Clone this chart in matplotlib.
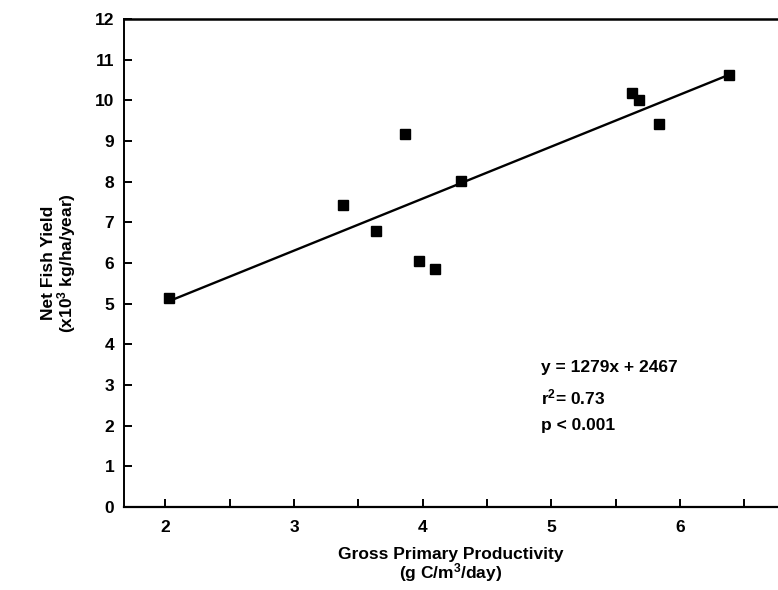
import numpy as np
import matplotlib
matplotlib.use('Agg')
import matplotlib.pyplot as plt
from matplotlib.ticker import MultipleLocator

# Gross primary productivity (g C/m3/day) vs net fish yield (x10^3 kg/ha/year)
gpp = [2.03, 3.38, 3.64, 3.86, 3.97, 4.10, 4.30, 5.63, 5.68, 5.84, 6.38]
fish_yield = [5.15, 7.42, 6.79, 9.18, 6.05, 5.86, 8.01, 10.19, 10.02, 9.41, 10.62]

# fitted line: y = 1279x + 2467 (kg), plotted in 10^3 kg
slope = 1.279
intercept = 2.467
fit_x = [2.03, 6.38]

plt.rcParams.update({
    'font.family': ['Liberation Sans', 'DejaVu Sans'],
    'font.size': 12.5,
    'font.weight': 'bold',
    'axes.labelweight': 'bold',
    'mathtext.default': 'regular',
})

fig = plt.figure(figsize=(7.78, 5.90), dpi=100)
ax = fig.add_axes([124 / 778, (590 - 507) / 590, (778 - 124) / 778, (507 - 19) / 590])

fit_y = [slope * x + intercept for x in fit_x]
ax.plot(fit_x, fit_y, color='black', linewidth=1.7, zorder=2)
ax.plot(gpp, fish_yield, 's', color='black', markersize=6.5, zorder=3)

ax.set_xlim(1.679, 6.762)
ax.set_ylim(0, 12)
ax.xaxis.set_major_locator(MultipleLocator(1))
ax.xaxis.set_minor_locator(MultipleLocator(0.5))
ax.yaxis.set_major_locator(MultipleLocator(1))

ax.tick_params(which='both', direction='in', width=1.4, top=False, right=False)
ax.tick_params(which='major', length=6)
ax.tick_params(which='minor', length=6)
ax.tick_params(axis='x', pad=9)
ax.tick_params(axis='y', pad=7)

ax.spines['right'].set_visible(False)
ax.spines['left'].set_linewidth(1.4)
ax.spines['bottom'].set_linewidth(1.6)
ax.spines['top'].set_linewidth(1.8)

ax.set_xlabel('Gross Primary Productivity\n(g C/m$^3$/day)', labelpad=9, linespacing=0.95)
ax.set_ylabel('Net Fish Yield\n(x10$^3$ kg/ha/year)', labelpad=12, linespacing=0.95)

ax.text(4.92, 3.42, 'y = 1279x + 2467', va='center', ha='left')
ax.text(4.92, 2.70, 'r$^2$= 0.73', va='center', ha='left')
ax.text(4.92, 2.01, 'p < 0.001', va='center', ha='left')

fig.savefig('out.png', dpi=100)
